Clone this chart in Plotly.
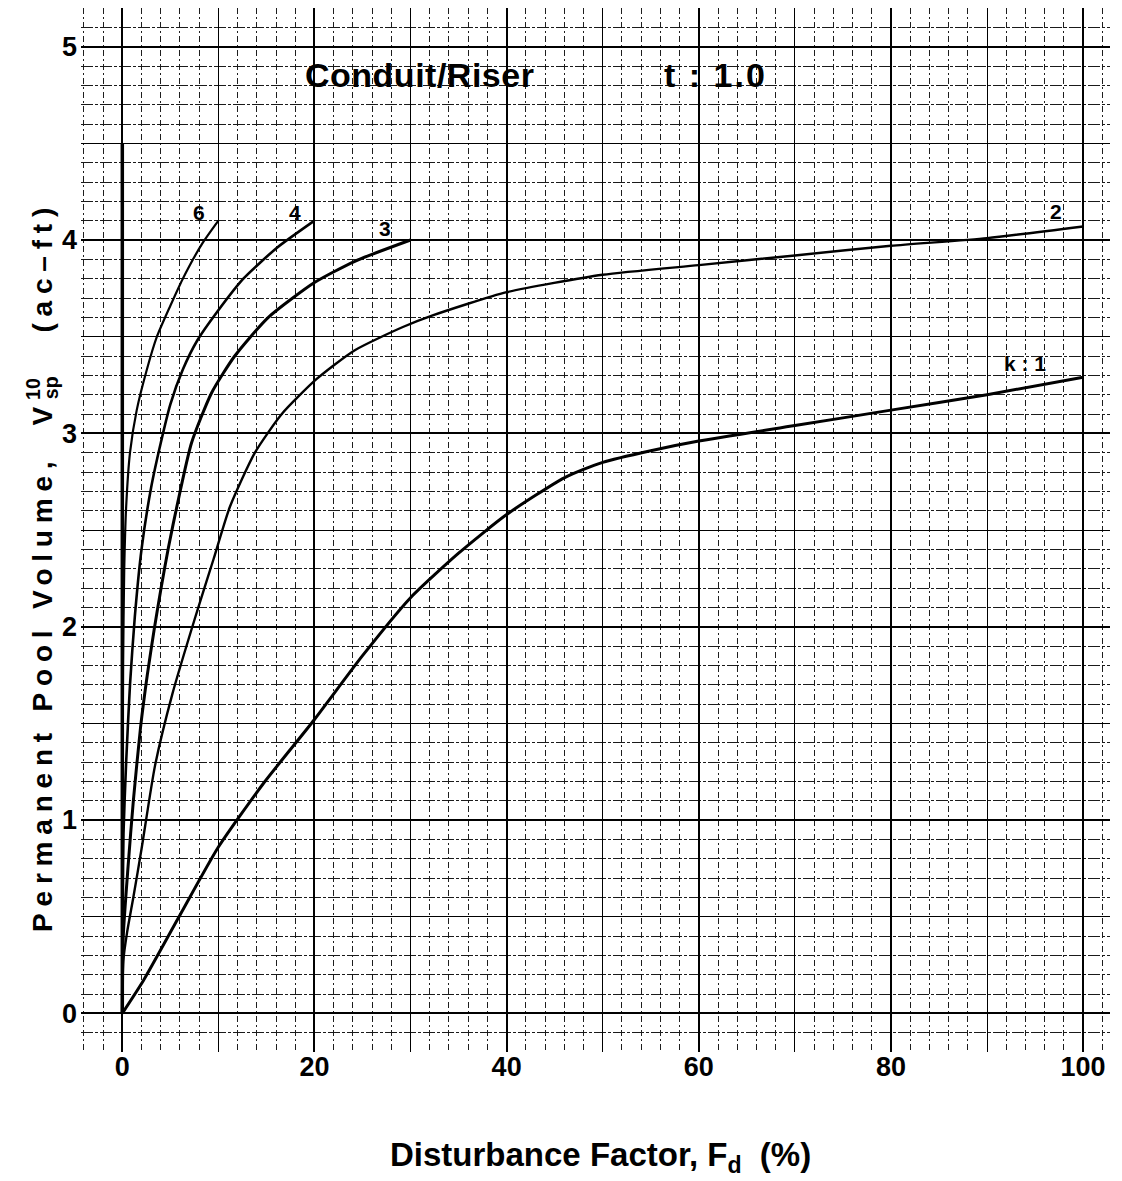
import plotly.graph_objects as go

# ---- data ----
limit_x = [0, 0]
limit_y = [0, 4.5]

k6_x = [0, 0.02, 0.08, 0.2, 0.4, 0.8, 1.5, 2.5, 3.6, 5.0, 6.3, 8.3, 10.0]
k6_y = [0, 1.0, 1.8, 2.3, 2.62, 2.9, 3.12, 3.32, 3.5, 3.66, 3.8, 3.98, 4.1]

k4_x = [0, 0.05, 0.12, 0.4, 0.8, 1.3, 2.0, 3.0, 4.0, 5.0, 6.3, 7.8, 9.9, 12.6, 16.1, 20.0]
k4_y = [0, 0.6, 0.93, 1.3, 1.7, 2.05, 2.4, 2.72, 2.95, 3.15, 3.33, 3.48, 3.63, 3.8, 3.96, 4.1]

k3_x = [0, 0.1, 0.6, 1.15, 1.9, 2.6, 3.3, 4.0, 4.8, 5.8, 7.2, 9.3, 11.7, 15.2, 20.0, 24.2, 30.0]
k3_y = [0, 0.4, 0.76, 1.1, 1.48, 1.75, 1.98, 2.19, 2.41, 2.65, 2.95, 3.21, 3.4, 3.6, 3.78, 3.89, 4.0]

k2_x = [0, 0.1, 0.5, 1.15, 2.0, 3.4, 5.2, 7.6, 9.5, 11.2, 13.8, 16.6, 20.2, 24.2, 29.2, 32.3,
        40, 50, 60, 70, 80, 90, 100]
k2_y = [0, 0.27, 0.42, 0.6, 0.85, 1.28, 1.65, 2.05, 2.35, 2.62, 2.9, 3.1, 3.28, 3.43, 3.55, 3.61,
        3.73, 3.82, 3.87, 3.92, 3.97, 4.01, 4.07]

k1_x = [0, 2.2, 5.8, 10, 14.7, 20, 25, 30, 35, 40, 46, 50, 55, 60, 70, 80, 90, 100]
k1_y = [0, 0.17, 0.49, 0.86, 1.19, 1.52, 1.85, 2.15, 2.38, 2.58, 2.77, 2.85, 2.91, 2.96, 3.04,
        3.12, 3.2, 3.29]

curve_labels = ["6", "4", "3", "2", "k : 1"]
label_x = [8.0, 18.0, 27.3, 97.2, 94.0]
label_y = [4.14, 4.14, 4.06, 4.15, 3.36]

x_ticks = [0, 20, 40, 60, 80, 100]
y_ticks = [0, 1, 2, 3, 4, 5]

XR = [-4.3, 102.8]
YR = [-0.2, 5.2]

fig = go.Figure()

series = [
    (k1_x, k1_y, 3.0, "k = 1"),
    (k2_x, k2_y, 2.4, "k = 2"),
    (k3_x, k3_y, 3.0, "k = 3"),
    (k4_x, k4_y, 2.6, "k = 4"),
    (k6_x, k6_y, 2.2, "k = 6"),
]
for xs, ys, w, nm in series:
    fig.add_trace(go.Scatter(x=xs, y=ys, mode="lines", name=nm,
                             line=dict(color="black", width=w, shape="spline", smoothing=0.6),
                             showlegend=False))

fig.add_trace(go.Scatter(x=limit_x, y=limit_y, mode="lines", name="limit",
                         line=dict(color="black", width=3.5), showlegend=False,
                         xaxis="x2", yaxis="y2"))

tickfont = dict(family="Liberation Sans, Arial", size=27, color="black", weight="bold")

# page body adds an 8 px offset, so margins are shifted to compensate
fig.update_layout(
    width=1122, height=1181,
    margin=dict(l=73, r=20, t=0, b=137),
    paper_bgcolor="white", plot_bgcolor="white",
    xaxis=dict(range=XR, tickvals=x_ticks, showgrid=True, gridcolor="black", gridwidth=2,
               zeroline=False, showline=False, ticks="", tickfont=tickfont,
               ticklabelstandoff=-4, automargin=False,
               minor=dict(dtick=2, tick0=0, showgrid=True, gridcolor="#1e1e1e",
                          gridwidth=1, griddash="6px,3px,2px,3px")),
    yaxis=dict(range=YR, tickvals=y_ticks, showgrid=True, gridcolor="black", gridwidth=2,
               zeroline=False, showline=False, ticks="", tickfont=tickfont,
               ticklabelstandoff=3, automargin=False,
               minor=dict(dtick=0.1, tick0=0, showgrid=True, gridcolor="#1a1a1a",
                          gridwidth=1, griddash="12px,2px,3px,2px")),
    xaxis2=dict(range=XR, overlaying="x", anchor="y2", dtick=10, tick0=0, showgrid=True,
                gridcolor="black", gridwidth=1.2, zeroline=False, showticklabels=False,
                ticks="", automargin=False),
    yaxis2=dict(range=YR, overlaying="y", anchor="x2", dtick=0.5, tick0=0, showgrid=True,
                gridcolor="black", gridwidth=1.2, zeroline=False, showticklabels=False,
                ticks="", automargin=False),
)

annots = []
for t, lx, ly in zip(curve_labels, label_x, label_y):
    annots.append(dict(x=lx, y=ly, xref="x", yref="y", text=t, showarrow=False,
                       font=dict(family="Liberation Sans, Arial", size=21, color="black",
                                 weight="bold")))

annots.append(dict(x=30.98, y=4.854, xref="x", yref="y",
                   text='<span style="letter-spacing:0.5px">Conduit/Riser</span>',
                   showarrow=False,
                   font=dict(family="Liberation Sans, Arial", size=34, color="black",
                             weight="bold")))
annots.append(dict(x=61.7, y=4.854, xref="x", yref="y",
                   text='<span style="letter-spacing:2px">t : 1.0</span>',
                   showarrow=False,
                   font=dict(family="Liberation Sans, Arial", size=34, color="black",
                             weight="bold")))

annots.append(dict(x=0.5053, y=-0.1006, xref="paper", yref="paper",
                   text="Disturbance Factor, F<sub>d</sub>  (%)",
                   showarrow=False, xanchor="center", yanchor="middle",
                   font=dict(family="Liberation Sans, Arial", size=33, color="black",
                             weight="bold")))
annots.append(dict(x=-0.0379, y=0.4646, xref="paper", yref="paper", textangle=-90,
                   text='<span style="letter-spacing:6.8px">Permanent Pool Volume,  V</span>'
                        '<sup>1<span style="letter-spacing:-21px">0</span></sup>'
                        '<sub>sp</sub>'
                        '<span style="letter-spacing:6.8px">   (ac\u2013ft)</span>',
                   showarrow=False, xanchor="center", yanchor="middle",
                   font=dict(family="Liberation Sans, Arial", size=28, color="black",
                             weight="bold")))

fig.update_layout(annotations=annots)

fig.write_html("out.html")
